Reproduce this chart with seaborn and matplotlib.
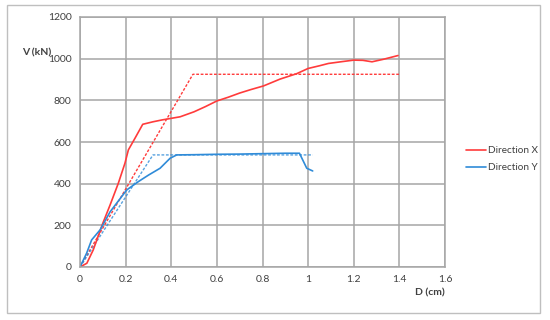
import matplotlib
matplotlib.use("Agg")
import matplotlib.pyplot as plt
import seaborn as sns
import pandas as pd
from matplotlib.patches import Rectangle

# Data
x_dir_d = [0, 0.03, 0.058, 0.10, 0.132, 0.168, 0.197, 0.212, 0.241, 0.275, 0.32, 0.36, 0.402, 0.439,
           0.5, 0.55, 0.6, 0.65, 0.7, 0.75, 0.804, 0.833, 0.877, 0.95, 1.0, 1.05, 1.089, 1.15, 1.2, 1.24,
           1.28, 1.33, 1.394]
x_dir_v = [0, 18, 82, 210, 298, 402, 498, 562, 618, 685, 697, 706, 714, 721,
           745, 770, 797, 815, 835, 852, 869, 882, 902, 928, 953, 966, 977, 986, 993, 992,
           985, 997, 1015]

y_dir_d = [0, 0.029, 0.051, 0.088, 0.132, 0.205, 0.256, 0.30, 0.351, 0.395, 0.424, 0.5, 0.6, 0.7,
           0.8, 0.9, 0.962, 0.994, 1.02]
y_dir_v = [0, 66, 130, 178, 265, 370, 410, 441, 474, 522, 538, 539, 541, 542,
           544, 546, 546, 474, 461]

x_bilin_d = [0, 0.495, 1.40]
x_bilin_v = [0, 925, 925]
y_bilin_d = [0, 0.32, 1.02]
y_bilin_v = [0, 538, 538]

x_ticks = [0, 0.2, 0.4, 0.6, 0.8, 1, 1.2, 1.4, 1.6]
x_tick_labels = ["0", "0.2", "0.4", "0.6", "0.8", "1", "1.2", "1.4", "1.6"]
y_ticks = [0, 200, 400, 600, 800, 1000, 1200]

RED = "#FF3B3B"
BLUE = "#2F8BD8"

sns.set_theme(style="white")
plt.rcParams["font.family"] = ["Lato", "DejaVu Sans"]

fig = plt.figure(figsize=(5.5, 3.2), dpi=100)
ax = fig.add_axes([80 / 550, 53 / 320, 365 / 550, 250 / 320])

dfx = pd.DataFrame({"D": x_dir_d, "V": x_dir_v})
dfy = pd.DataFrame({"D": y_dir_d, "V": y_dir_v})
dfxb = pd.DataFrame({"D": x_bilin_d, "V": x_bilin_v})
dfyb = pd.DataFrame({"D": y_bilin_d, "V": y_bilin_v})

sns.lineplot(data=dfxb, x="D", y="V", ax=ax, sort=False, color=RED, lw=1.0,
             linestyle=(0, (2, 1.2)), estimator=None)
sns.lineplot(data=dfyb, x="D", y="V", ax=ax, sort=False, color=BLUE, lw=1.0,
             linestyle=(0, (2, 1.2)), estimator=None, alpha=0.8)
sns.lineplot(data=dfx, x="D", y="V", ax=ax, sort=False, color=RED, lw=1.2,
             estimator=None, label="Direction X")
sns.lineplot(data=dfy, x="D", y="V", ax=ax, sort=False, color=BLUE, lw=1.2,
             estimator=None, label="Direction Y")

ax.set_xlim(0, 1.6)
ax.set_ylim(0, 1200)
ax.set_xticks(x_ticks)
ax.set_xticklabels(x_tick_labels)
ax.set_yticks(y_ticks)
ax.grid(True, color="#A6A6A6", lw=1.1)
for s in ax.spines.values():
    s.set_color("#A6A6A6")
    s.set_linewidth(1.1)
ax.tick_params(axis="both", length=0, labelsize=7.5, colors="#404040", pad=6)
ax.set_xlabel("")
ax.set_ylabel("")

fig.text(37 / 550, 1 - 53 / 320, "V (kN)", fontsize=7.5, fontweight="bold",
         color="#404040", ha="center", va="center")
fig.text(445 / 550, 1 - 293 / 320, "D (cm)", fontsize=7.5, fontweight="bold",
         color="#404040", ha="right", va="center")

leg = ax.legend(loc="center left", bbox_to_anchor=(466 / 550, 1 - 159 / 320),
                bbox_transform=fig.transFigure, frameon=False, fontsize=7.2,
                handlelength=2.0, handletextpad=0.2, labelspacing=0.8,
                borderpad=0, borderaxespad=0)
for t in leg.get_texts():
    t.set_color("#404040")

fig.patches.append(Rectangle((7 / 550, 1 - 313 / 320), 533 / 550, 308 / 320,
                             transform=fig.transFigure, fill=False,
                             edgecolor="#BFBFBF", lw=1.0))

fig.savefig("out.png", dpi=100)
